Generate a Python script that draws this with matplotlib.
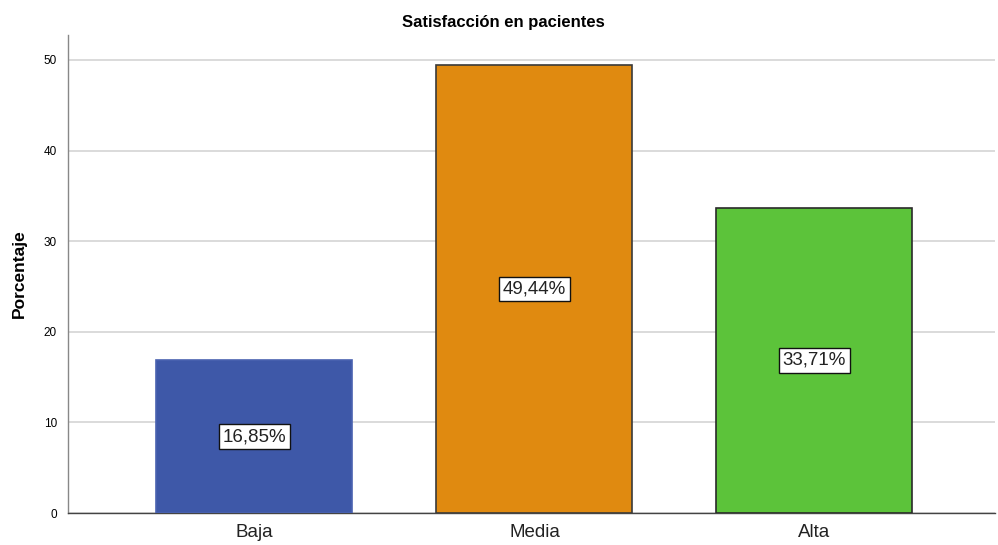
import matplotlib
matplotlib.use("Agg")
import matplotlib.pyplot as plt

categories = ["Baja", "Media", "Alta"]
percentages = [16.85, 49.44, 33.71]
bar_colors = ["#3E58A8", "#E08A10", "#5CC33A"]
edge_colors = ["#4A62B0", "#3A3A3A", "#2A2A2A"]
y_ticks = [0, 10, 20, 30, 40, 50]

plt.rcParams["font.family"] = ["Liberation Sans", "DejaVu Sans"]

fig = plt.figure(figsize=(9.98, 5.45), dpi=100)
W, H = 998, 545
left, right, top, bottom = 68, 995, 35, 513
ax = fig.add_axes([left / W, 1 - bottom / H, (right - left) / W, (bottom - top) / H])

x = list(range(len(categories)))
ax.bar(x, percentages, width=0.7, color=bar_colors, edgecolor=edge_colors,
       linewidth=1.2, zorder=3)

for xi, v in zip(x, percentages):
    ax.text(xi, v / 2, f"{v:.2f}%".replace(".", ","), ha="center", va="center",
            fontsize=13.5, color="#222222", zorder=4,
            bbox=dict(boxstyle="square,pad=0.2", facecolor="white",
                      edgecolor="#111111", linewidth=1.0))

ax.set_xlim(-0.666, 2.645)
ax.set_ylim(0, 52.75)
ax.set_yticks(y_ticks)
ax.set_yticklabels([str(t) for t in y_ticks], fontsize=8.5)
ax.set_xticks(x)
ax.set_xticklabels(categories, fontsize=13.5, color="#222222")
ax.tick_params(axis="y", length=0, pad=8)
ax.tick_params(axis="x", length=0, pad=8)

ax.yaxis.grid(True, color="#D4D4D4", linewidth=1.2, zorder=0)
ax.set_axisbelow(True)
for s in ["top", "right"]:
    ax.spines[s].set_visible(False)
ax.spines["left"].set_color("#888888")
ax.spines["bottom"].set_color("#444444")
ax.spines["left"].set_linewidth(1.0)
ax.spines["bottom"].set_linewidth(1.0)

ax.set_ylabel("Porcentaje", fontsize=12.5, fontweight="bold", labelpad=12)
fig.text(503 / W, 1 - 22 / H, "Satisfacción en pacientes", ha="center",
         va="center", fontsize=12, fontweight="bold")

fig.savefig("out.png", dpi=100)
